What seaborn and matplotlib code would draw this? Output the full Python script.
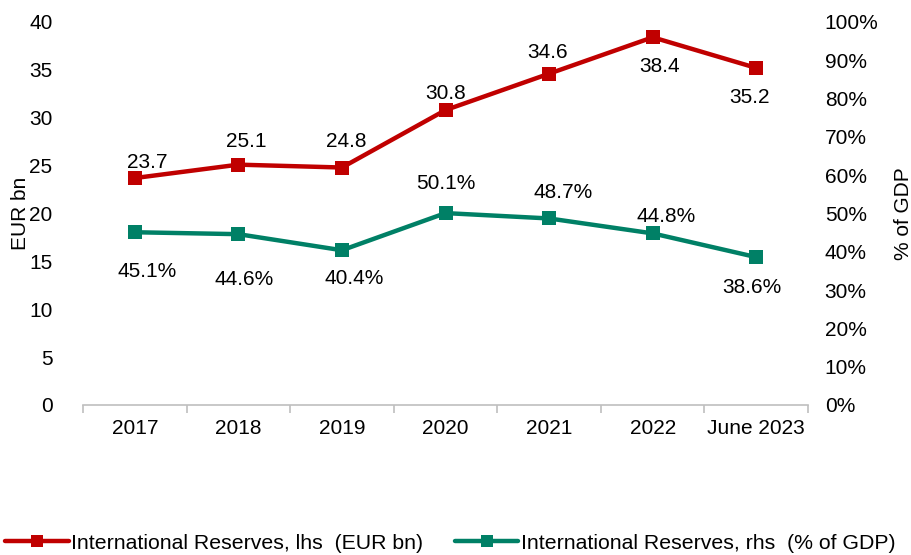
import matplotlib
matplotlib.use("Agg")
import matplotlib.pyplot as plt
from matplotlib.lines import Line2D
from matplotlib.ticker import FixedLocator, PercentFormatter
import pandas as pd
import seaborn as sns

categories = ["2017", "2018", "2019", "2020", "2021", "2022", "June 2023"]
reserves_eur_bn = [23.7, 25.1, 24.8, 30.8, 34.6, 38.4, 35.2]
reserves_pct_gdp = [45.1, 44.6, 40.4, 50.1, 48.7, 44.8, 38.6]

red = "#C00000"
green = "#008066"

sns.set_theme(style="white")
plt.rcParams["font.family"] = ["Liberation Sans", "DejaVu Sans"]

df = pd.DataFrame({"period": categories, "eur": reserves_eur_bn, "pct": reserves_pct_gdp})

fig = plt.figure(figsize=(9.11, 5.55), dpi=100)
ax = fig.add_axes([0.0911, 0.2703, 0.7959, 0.6901])
ax2 = ax.twinx()

sns.lineplot(data=df, x="period", y="eur", ax=ax, color=red, lw=3.2,
             marker="s", markersize=10, markeredgewidth=0, sort=False)
sns.lineplot(data=df, x="period", y="pct", ax=ax2, color=green, lw=3.2,
             marker="s", markersize=10, markeredgewidth=0, sort=False)

ax.set_xlim(-0.5, len(categories) - 0.5)
ax.set_ylim(0, 40)
ax2.set_ylim(0, 100)
ax.set_yticks(range(0, 41, 5))
ax2.set_yticks(range(0, 101, 10))
ax2.yaxis.set_major_formatter(PercentFormatter(decimals=0))

ax.set_xlabel("")
ax.set_ylabel("EUR bn", fontsize=15, color="black")
ax2.set_ylabel("% of GDP", fontsize=15, color="black")
ax.yaxis.set_label_coords(-0.073, 0.5)
ax2.yaxis.set_label_coords(1.118, 0.5)

for a in (ax, ax2):
    for s in ("left", "right", "top"):
        a.spines[s].set_visible(False)
    a.tick_params(axis="y", length=0, labelsize=15, colors="black")
    a.grid(False)
ax2.spines["bottom"].set_visible(False)
ax.spines["bottom"].set_color("#BFBFBF")
ax.spines["bottom"].set_linewidth(1.2)
ax.tick_params(axis="y", pad=22)
ax2.tick_params(axis="y", pad=12)

ax.tick_params(axis="x", which="major", length=0, labelsize=15, pad=10, colors="black")
ax.xaxis.set_minor_locator(FixedLocator([i - 0.5 for i in range(len(categories) + 1)]))
ax.tick_params(axis="x", which="minor", length=6, width=1.2, color="#BFBFBF", bottom=True)

# data labels (offsets in points)
red_offsets = [(9, 11), (6, 17), (3, 19), (0, 12), (-1, 15), (5, -21), (-5, -21)]
green_offsets = [(9, -28), (4, -33), (9, -20), (0, 21), (10, 19), (10, 12), (-3, -22)]
for i, v in enumerate(reserves_eur_bn):
    ax.annotate(f"{v:.1f}", (i, v), xytext=red_offsets[i], textcoords="offset points",
                ha="center", va="center", fontsize=15, color="black")
for i, v in enumerate(reserves_pct_gdp):
    ax2.annotate(f"{v:.1f}%", (i, v), xytext=green_offsets[i], textcoords="offset points",
                 ha="center", va="center", fontsize=15, color="black")

handles = [
    Line2D([], [], color=red, lw=3.2, marker="s", markersize=8, markeredgewidth=0),
    Line2D([], [], color=green, lw=3.2, marker="s", markersize=8, markeredgewidth=0),
]
labels = ["International Reserves, lhs  (EUR bn)", "International Reserves, rhs  (% of GDP)"]
fig.legend(handles, labels, loc="lower center", bbox_to_anchor=(0.494, -0.03), ncol=2,
           frameon=False, handlelength=3.0, handletextpad=0.1, columnspacing=1.5,
           prop={"size": 15.3}, labelcolor="black")

fig.savefig("out.png", dpi=100)
